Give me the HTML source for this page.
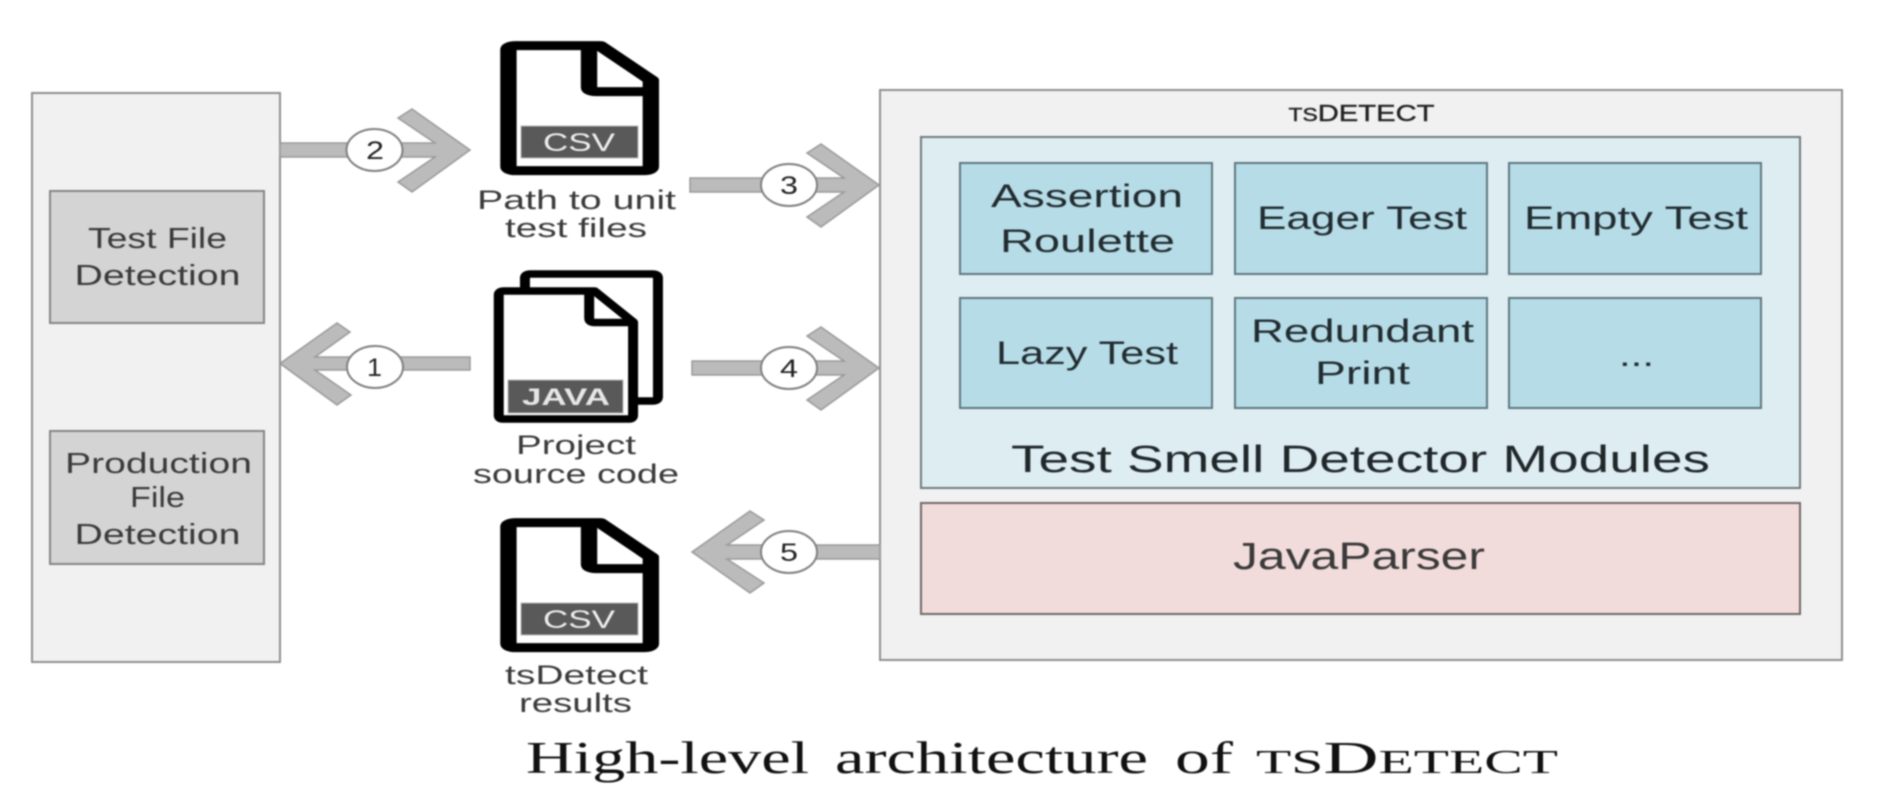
<!DOCTYPE html>
<html><head><meta charset="utf-8"><style>
html,body{margin:0;padding:0;background:#fff;width:1903px;height:810px;overflow:hidden}
svg{display:block;filter:blur(.7px)}
text{font-family:"Liberation Sans",sans-serif;fill:#3a3a3a}
.cap{font-family:"Liberation Serif",serif;fill:#111;font-size:45px}
.ar{fill:#bbb;stroke:#999;stroke-width:1.5}
.ci{fill:#fff;stroke:#808080;stroke-width:2}
.pn{fill:#f1f1f1;stroke:#8f8f8f;stroke-width:2}
.gr{fill:#d4d4d4;stroke:#858585;stroke-width:2}
.mo{fill:#b6dce7;stroke:#5f777f;stroke-width:2}
.m{font-size:32px;fill:#222c30}
.l{font-size:29px}
.s{font-size:27px}
.d{font-size:25px;fill:#222}
</style></head><body>
<svg width="1903" height="810" viewBox="0 0 1903 810" xmlns="http://www.w3.org/2000/svg">
<rect width="1903" height="810" fill="#fff"/>

<rect class="pn" x="32" y="93" width="248" height="569"/>
<rect class="gr" x="50" y="191" width="214" height="132"/>
<rect class="gr" x="50" y="431" width="214" height="133"/>
<text class="l" x="88" y="248" textLength="139" lengthAdjust="spacingAndGlyphs">Test File</text>
<text class="l" x="74.5" y="285" textLength="166" lengthAdjust="spacingAndGlyphs">Detection</text>
<text class="l" x="65" y="473" textLength="187" lengthAdjust="spacingAndGlyphs">Production</text>
<text class="l" x="130" y="507" textLength="55" lengthAdjust="spacingAndGlyphs">File</text>
<text class="l" x="74.5" y="544" textLength="166" lengthAdjust="spacingAndGlyphs">Detection</text>

<rect class="pn" x="880" y="90" width="962" height="570"/>
<rect x="921" y="137" width="879" height="351" fill="#deedf2" stroke="#6f7c7f" stroke-width="2"/>
<rect x="921" y="503" width="879" height="111" fill="#f2dbdb" stroke="#70686a" stroke-width="2"/>
<rect class="mo" x="960" y="163" width="252" height="111"/>
<rect class="mo" x="1235" y="163" width="252" height="111"/>
<rect class="mo" x="1509" y="163" width="252" height="111"/>
<rect class="mo" x="960" y="298" width="252" height="110"/>
<rect class="mo" x="1235" y="298" width="252" height="110"/>
<rect class="mo" x="1509" y="298" width="252" height="110"/>

<text x="1288.5" y="121" font-size="23" style="fill:#222;stroke:#222;stroke-width:.4" textLength="146" lengthAdjust="spacingAndGlyphs"><tspan font-size="18">TS</tspan>DETECT</text>
<text class="m" x="991" y="207" textLength="192" lengthAdjust="spacingAndGlyphs">Assertion</text>
<text class="m" x="1000" y="252" textLength="175" lengthAdjust="spacingAndGlyphs">Roulette</text>
<text class="m" x="1257" y="229" textLength="210" lengthAdjust="spacingAndGlyphs">Eager Test</text>
<text class="m" x="1524" y="229" textLength="224" lengthAdjust="spacingAndGlyphs">Empty Test</text>
<text class="m" x="996" y="364" textLength="182" lengthAdjust="spacingAndGlyphs">Lazy Test</text>
<text class="m" x="1251" y="342" textLength="223" lengthAdjust="spacingAndGlyphs">Redundant</text>
<text class="m" x="1315" y="384" textLength="95" lengthAdjust="spacingAndGlyphs">Print</text>
<text class="m" x="1619" y="366" textLength="35" lengthAdjust="spacingAndGlyphs">...</text>
<text x="1011" y="472" font-size="38" style="fill:#1f272a" textLength="699" lengthAdjust="spacingAndGlyphs">Test Smell Detector Modules</text>
<text x="1233" y="569" font-size="38" textLength="252" lengthAdjust="spacingAndGlyphs">JavaParser</text>

<!-- arrows -->
<path class="ar" d="M470,357 H315 L350,332 L337,323 L280,363.5 L337,405 L351,395 L315,370 H470 Z"/>
<ellipse class="ci" cx="375" cy="367" rx="28" ry="21"/>
<text class="d" x="367" y="376" textLength="15" lengthAdjust="spacingAndGlyphs">1</text>

<path class="ar" d="M280,143 H435 L398,118 L412,109 L470,150 L412,192 L398,182 L435,157 H280 Z"/>
<ellipse class="ci" cx="374.5" cy="150" rx="28" ry="21"/>
<text class="d" x="366" y="159" textLength="18" lengthAdjust="spacingAndGlyphs">2</text>

<path class="ar" d="M690,178 H844 L807,153 L821,144 L879,185 L821,227 L807,217 L844,192 H690 Z"/>
<ellipse class="ci" cx="789" cy="185" rx="28" ry="21"/>
<text class="d" x="780" y="194" textLength="18" lengthAdjust="spacingAndGlyphs">3</text>

<path class="ar" d="M692,361 H844 L807,336 L821,327 L879,368 L821,410 L807,400 L844,375 H692 Z"/>
<ellipse class="ci" cx="789" cy="368" rx="28" ry="21"/>
<text class="d" x="780" y="377" textLength="18" lengthAdjust="spacingAndGlyphs">4</text>

<path class="ar" d="M880,545 H727 L764,520 L750,511 L692,552 L750,593 L764,583 L727,559 H880 Z"/>
<ellipse class="ci" cx="789" cy="552" rx="28" ry="21"/>
<text class="d" x="780" y="561" textLength="18" lengthAdjust="spacingAndGlyphs">5</text>

<!-- CSV 1 -->
<g transform="scale(.606,.3333)" fill="none" stroke="#000" stroke-width="27" stroke-linejoin="round">
<path fill="#fff" d="M851,137 H990 L1074,240 V500 Q1074,512 1062,512 H851 Q839,512 839,500 V149 Q839,137 851,137 Z"/>
<path d="M972,137 V262 Q972,275 984,275 H1074"/>
</g>
<rect x="521" y="126" width="117" height="32" fill="#595959" stroke="#bbb" stroke-width="1"/>
<text x="543" y="151" font-size="25" style="fill:#eee" textLength="72" lengthAdjust="spacingAndGlyphs">CSV</text>

<!-- CSV 2 -->
<g transform="translate(0,477) scale(.606,.3333)" fill="none" stroke="#000" stroke-width="27" stroke-linejoin="round">
<path fill="#fff" d="M851,137 H990 L1074,240 V500 Q1074,512 1062,512 H851 Q839,512 839,500 V149 Q839,137 851,137 Z"/>
<path d="M972,137 V262 Q972,275 984,275 H1074"/>
</g>
<rect x="521" y="603" width="117" height="32" fill="#595959" stroke="#bbb" stroke-width="1"/>
<text x="543" y="628" font-size="25" style="fill:#eee" textLength="72" lengthAdjust="spacingAndGlyphs">CSV</text>

<!-- JAVA -->
<g transform="scale(1.33,1)" fill="none" stroke="#000" stroke-width="7.5" stroke-linejoin="round">
<path fill="#fff" d="M394.7,291 V278 Q394.7,274 399,274 H490.5 Q494.7,274 494.7,278 V397 Q494.7,401 490.5,401 H476 V291 Z" stroke="none"/>
<path d="M394.7,291 V278 Q394.7,274 399,274 H490.5 Q494.7,274 494.7,278 V397 Q494.7,401 490.5,401 H476"/>
<path fill="#fff" d="M379,291 H447 L476,322 V415 Q476,419 473,419 H378 Q375,419 375,415 V295 Q375,291 379,291 Z"/>
<path d="M443,291 V318 Q443,322.5 447,322.5 H476"/>
</g>
<rect x="508" y="380" width="115" height="33" fill="#595959" stroke="#bbb" stroke-width="1"/>
<text x="522" y="405" font-size="24" font-weight="bold" style="fill:#e6e6e6" textLength="88" lengthAdjust="spacingAndGlyphs">JAVA</text>

<!-- file captions -->
<text class="s" x="477" y="209" textLength="199" lengthAdjust="spacingAndGlyphs">Path to unit</text>
<text class="s" x="505" y="237" textLength="142" lengthAdjust="spacingAndGlyphs">test files</text>
<text class="s" x="516" y="454" textLength="120" lengthAdjust="spacingAndGlyphs">Project</text>
<text class="s" x="473" y="483" textLength="206" lengthAdjust="spacingAndGlyphs">source code</text>
<text class="s" x="505" y="684" textLength="143" lengthAdjust="spacingAndGlyphs">tsDetect</text>
<text class="s" x="519" y="712" textLength="113" lengthAdjust="spacingAndGlyphs">results</text>

<!-- caption -->
<text class="cap" x="526" y="773" textLength="283" lengthAdjust="spacingAndGlyphs">High-level</text>
<text class="cap" x="835" y="773" textLength="313" lengthAdjust="spacingAndGlyphs">architecture</text>
<text class="cap" x="1175" y="773" textLength="58" lengthAdjust="spacingAndGlyphs">of</text>
<text class="cap" x="1256" y="773" textLength="302" lengthAdjust="spacingAndGlyphs"><tspan font-size="34">TS</tspan>D<tspan font-size="34">ETECT</tspan></text>
</svg>
</body></html>
